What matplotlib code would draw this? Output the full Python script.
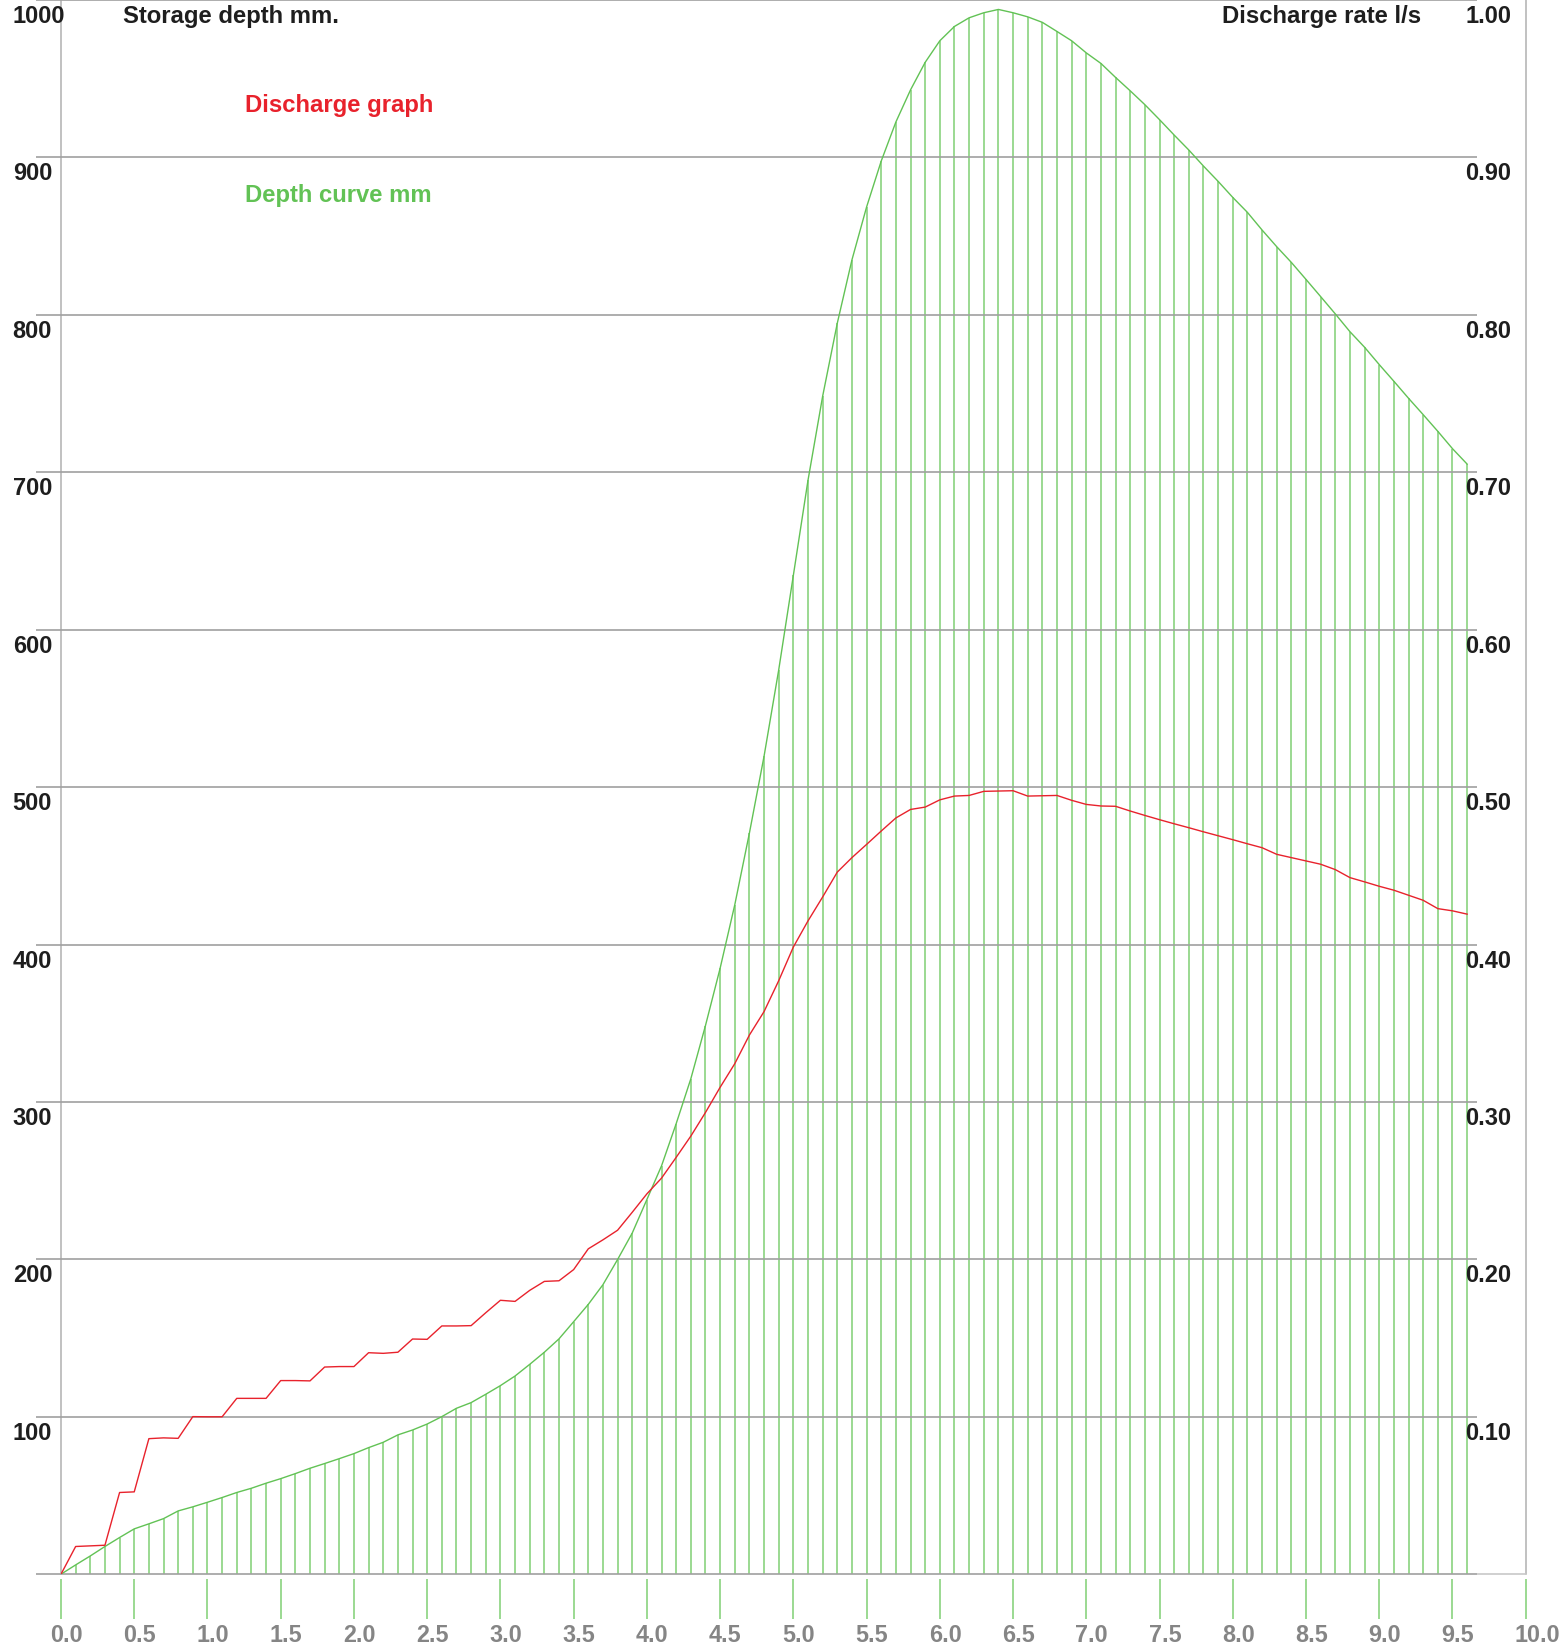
import numpy as np
import matplotlib
matplotlib.use("Agg")
from matplotlib import pyplot as plt
from matplotlib import transforms

# figure size in pixels
W, H = 1567, 1647

# time axis (hours), one sample every 0.1
hours = np.round(np.arange(97) * 0.1, 1)

# storage depth curve in mm
depth_mm = [
    0.0, 5.9, 11.6, 17.6, 23.3, 28.8, 32.0, 35.3, 40.2, 42.8,
    45.7, 48.7, 51.9, 54.6, 57.8, 60.7, 63.9, 67.3, 70.3, 73.4,
    76.6, 80.4, 83.8, 88.5, 91.6, 95.4, 100.1, 105.4, 109.0, 114.3,
    119.8, 125.9, 133.3, 141.0, 149.5, 160.4, 171.4, 183.9, 199.9, 216.7,
    238.0, 259.4, 286.2, 314.7, 348.5, 384.9, 425.2, 470.8, 519.6, 574.4,
    634.5, 694.9, 748.3, 794.7, 834.9, 868.5, 897.7, 922.5, 942.9, 960.4,
    974.1, 983.2, 988.7, 991.9, 994.0, 991.9, 989.3, 985.8, 980.0, 974.1,
    966.4, 959.7, 950.8, 942.3, 933.5, 924.0, 914.2, 904.7, 894.5, 884.8,
    874.6, 865.1, 853.9, 843.3, 833.3, 822.5, 811.6, 800.6, 789.3, 779.4,
    768.4, 757.8, 747.0, 736.6, 726.0, 715.0, 705.2,
]

# discharge rate in l/s
discharge_ls = [
    0.0, 0.0176, 0.0180, 0.0184, 0.0519, 0.0523, 0.0861, 0.0866, 0.0863, 0.1001,
    0.1000, 0.1000, 0.1117, 0.1117, 0.1117, 0.1230, 0.1230, 0.1228, 0.1316, 0.1319,
    0.1319, 0.1407, 0.1403, 0.1410, 0.1494, 0.1492, 0.1577, 0.1577, 0.1579, 0.1661,
    0.1740, 0.1733, 0.1803, 0.1860, 0.1864, 0.1935, 0.2067, 0.2124, 0.2185, 0.2299,
    0.2416, 0.2516, 0.2648, 0.2783, 0.2933, 0.3093, 0.3243, 0.3425, 0.3574, 0.3770,
    0.3984, 0.4150, 0.4302, 0.4460, 0.4552, 0.4636, 0.4721, 0.4804, 0.4858, 0.4873,
    0.4919, 0.4943, 0.4947, 0.4973, 0.4975, 0.4977, 0.4943, 0.4945, 0.4947, 0.4916,
    0.4890, 0.4880, 0.4878, 0.4848, 0.4820, 0.4793, 0.4767, 0.4742, 0.4716, 0.4691,
    0.4666, 0.4640, 0.4615, 0.4573, 0.4552, 0.4531, 0.4510, 0.4476, 0.4425, 0.4398,
    0.4370, 0.4345, 0.4313, 0.4281, 0.4228, 0.4214, 0.4193,
]

# axis ticks and labels
x_ticks = [0.0, 0.5, 1.0, 1.5, 2.0, 2.5, 3.0, 3.5, 4.0, 4.5, 5.0,
           5.5, 6.0, 6.5, 7.0, 7.5, 8.0, 8.5, 9.0, 9.5, 10.0]
depth_ticks = [100, 200, 300, 400, 500, 600, 700, 800, 900, 1000]
rate_ticks = [0.10, 0.20, 0.30, 0.40, 0.50, 0.60, 0.70, 0.80, 0.90, 1.00]

green = "#62c255"
green_light = "#80cf74"
red = "#e8222c"
grid_col = "#a0a0a0"

plt.rcParams['font.family'] = ['Liberation Sans', 'DejaVu Sans']
plt.rcParams['font.weight'] = 'bold'

fig = plt.figure(figsize=(W / 100, H / 100), dpi=100)
ax = fig.add_axes([61 / W, 72.8 / H, 1464.7 / W, 1574.2 / H])
ax.set_xlim(0, 10)
ax.set_ylim(0, 1000)

# frame
for side in ['top', 'bottom']:
    ax.spines[side].set_visible(False)
ax.spines['left'].set_color("#b0b0b0")
ax.spines['right'].set_color("#b0b0b0")
ax.spines['left'].set_linewidth(1.1)
ax.spines['right'].set_linewidth(1.1)

# horizontal gridlines, sticking out a bit left of the axis
ax.hlines([0] + depth_ticks, -0.17, 9.67, colors=grid_col, lw=1.2,
          clip_on=False, zorder=3)
ax.hlines([0], 9.67, 10, colors="#c8c8c8", lw=1.2, clip_on=False, zorder=3)

# depth curve with vertical hatching
ax.vlines(hours, 0, depth_mm, colors=green_light, lw=1.1, zorder=2)
ax.plot(hours, depth_mm, color=green, lw=1.0, zorder=4)

# x ticks: green marks below the axis, grey bold labels
ax.set_xticks(x_ticks)
ax.set_xticklabels([f"{v:.1f}" for v in x_ticks], color="#858585",
                   fontsize=16.8, fontweight='bold')
ax.tick_params(axis='x', length=0, pad=36)
shift = transforms.ScaledTranslation(-0.11, 0, fig.dpi_scale_trans)
for lab in ax.get_xticklabels():
    lab.set_ha('left')
    lab.set_transform(lab.get_transform() + shift)
ax.vlines(x_ticks, -3.2, -28.6, colors=green_light, lw=1.1, clip_on=False)
ax.set_yticks([])

# left depth labels, sitting just under each gridline
off = transforms.ScaledTranslation(0, -0.23, fig.dpi_scale_trans)
left_tr = transforms.blended_transform_factory(ax.transAxes, ax.transData) + off
for v in depth_ticks:
    ax.text((12.7 - 61) / 1464.7, v, str(v), transform=left_tr, ha='left',
            va='baseline', fontsize=17, fontweight='bold', color="#1e1e1e")

# discharge on a twin axis
ax2 = ax.twinx()
ax2.set_ylim(0, 1.0)
ax2.set_yticks([])
for s in ax2.spines.values():
    s.set_visible(False)
ax2.plot(hours, discharge_ls, color=red, lw=1.0, zorder=5)

right_tr = transforms.blended_transform_factory(ax2.transAxes, ax2.transData) + off
for v in rate_ticks:
    ax2.text((1465.5 - 61) / 1464.7, v, f"{v:.2f}", transform=right_tr,
             ha='left', va='baseline', fontsize=17, fontweight='bold',
             color="#1e1e1e")

# axis titles and legend text
fig.text(123 / W, 1 - 22.7 / H, "Storage depth mm.", ha='left', va='baseline',
         fontsize=17.2, fontweight='bold', color="#1e1e1e")
fig.text(1221.7 / W, 1 - 22.7 / H, "Discharge rate l/s", ha='left',
         va='baseline', fontsize=17.2, fontweight='bold', color="#1e1e1e")
fig.text(245 / W, 1 - 111.7 / H, "Discharge graph", ha='left', va='baseline',
         fontsize=17.2, fontweight='bold', color=red)
fig.text(245 / W, 1 - 202.3 / H, "Depth curve mm", ha='left', va='baseline',
         fontsize=17.2, fontweight='bold', color=green)

fig.savefig("out.png", dpi=100)
